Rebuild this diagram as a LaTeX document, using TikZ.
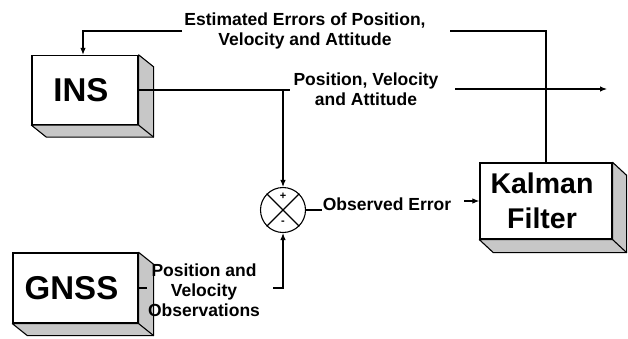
\documentclass[tikz,border=0pt]{standalone}
\usepackage{fontspec}
\setmainfont{Liberation Sans}
\usetikzlibrary{arrows.meta}
\newcommand{\boxdepth}[3]{%
  \filldraw[depthface] (#1.north east) -- ++(#2,#3) -- ([shift={(#2,#3)}]#1.south east) -- ([shift={(#2,#3)}]#1.south west) -- (#1.south west) -- (#1.south east) -- cycle;
  \draw[depthface,fill=none] (#1.south east) -- ++(#2,#3);}
\newcommand{\lft}{\hspace*{-8pt}}
\begin{document}
\begin{tikzpicture}[x=1pt,y=-1pt,
  blk/.style={draw,line width=1.3pt,fill=white,font=\bfseries\fontsize{33}{36}\selectfont,inner sep=0pt,align=center},
  lbl/.style={font=\bfseries\fontsize{17.5}{20}\selectfont,align=center,inner sep=0pt},
  ln/.style={line width=1.1pt},
  arr/.style={ln,-{Latex[length=7pt,width=5.5pt]}},
  depthface/.style={fill=black!22,draw,line width=1.1pt,line join=round}]
\useasboundingbox (0,0) rectangle (628,338);

% boxes
\node[blk,minimum width=106pt,minimum height=69pt] (ins) at (85,90) {\lft INS};
\node[blk,minimum width=125pt,minimum height=70pt] (gnss) at (75.5,288) {\lft GNSS};
\node[blk,minimum width=132pt,minimum height=76pt,font=\bfseries\fontsize{28.5}{35}\selectfont] (kf) at (546,201) {\lft Kalman\\\lft Filter};
\boxdepth{ins}{15}{12}
\boxdepth{gnss}{15}{12}
\boxdepth{kf}{14}{13}

% summing junction
\node[draw,circle,minimum size=45pt,inner sep=0pt,line width=1.1pt] (sum) at (283,210) {};
\draw[ln] (sum.north east) -- (sum.south west) (sum.north west) -- (sum.south east);
\node[font=\bfseries\fontsize{11}{11}\selectfont,inner sep=0pt] (plus) at (283,196) {+};
\node[font=\bfseries\fontsize{11}{11}\selectfont,inner sep=0pt] (minus) at (283,223) {-};

% labels
\node[lbl] (t1) at (305,31) {Estimated Errors of Position,\\Velocity and Attitude};
\node[lbl] (t2) at (366,89.5) {Position, Velocity\\and Attitude};
\node[lbl] (t3) at (204,290) {Position and\\Velocity\\Observations};
\node[lbl] (t4) at (387,204) {Observed Error};

% coordinates
\coordinate (insend) at (290,90);
\coordinate (insturn) at (283,90);
\coordinate (outstart) at (455,89);
\coordinate (outend) at (607,89);
\coordinate (fbtop) at (546,31);
\coordinate (fbR) at (450,31);
\coordinate (fbL) at (182,31);
\coordinate (fbturn) at (83,31);
\coordinate (gstub) at (147,288);
\coordinate (gstart) at (273,288);
\coordinate (gturn) at (283,288);
\coordinate (oe1) at (322,210);
\coordinate (oe2) at (464,201);

% connectors
\draw[ln] (ins.east) -- (insend);
\draw[arr] (insturn) -- (sum.north);
\draw[arr] (outstart) -- (outend);
\draw[ln] (kf.north) -- (fbtop) -- (fbR);
\draw[arr] (fbL) -- (fbturn) -- (fbturn |- ins.north);
\draw[ln] (gnss.east) -- (gstub);
\draw[arr] (gstart) -- (gturn) -- (sum.south);
\draw[ln] (sum.east) -- (oe1);
\draw[arr] (oe2) -- (kf.west);
\end{tikzpicture}
\end{document}
